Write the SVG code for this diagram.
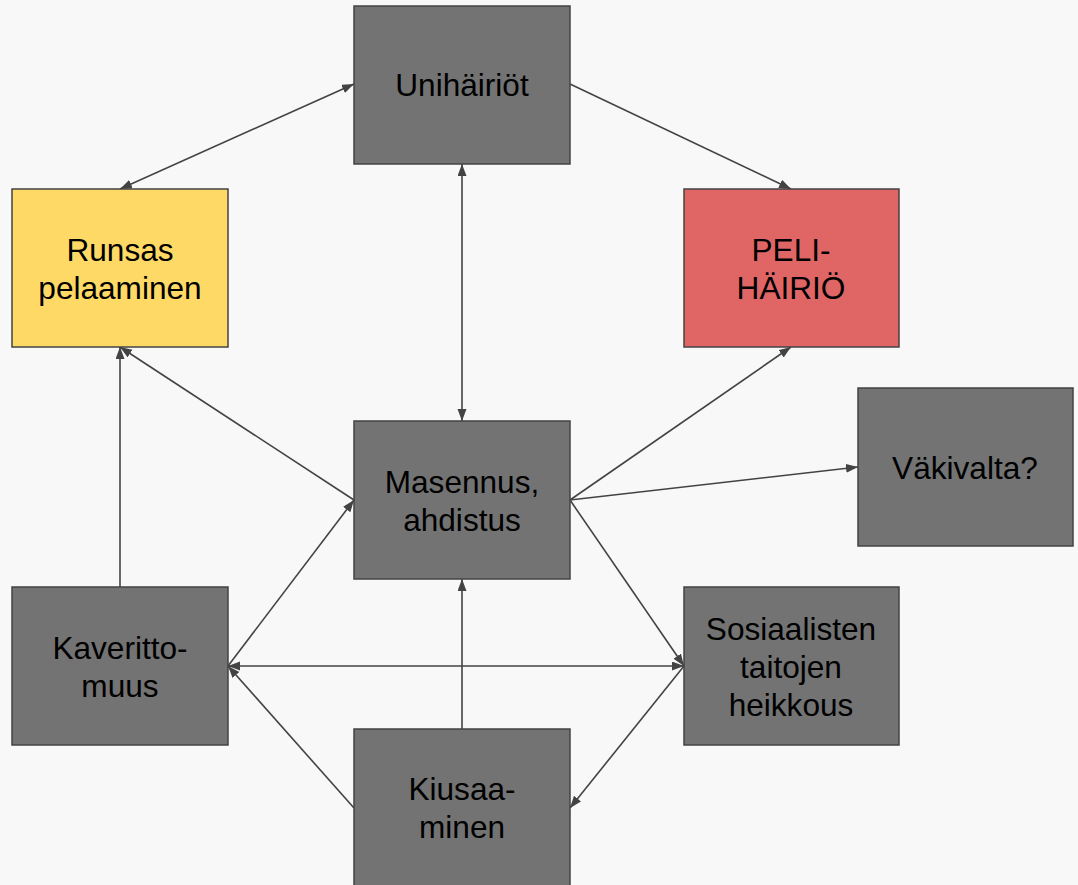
<svg xmlns="http://www.w3.org/2000/svg" width="1078" height="885" viewBox="0 0 1078 885">
  <style>
    .box { fill: #737373; stroke: #434343; stroke-width: 1.5; }
    .yellow { fill: #ffd966; }
    .red { fill: #e06666; }
    .label { font-family: "Liberation Sans", Arial, sans-serif; font-size: 31.6px; fill: #000; text-anchor: middle; }
    .edge { stroke: #434343; stroke-width: 1.6; fill: none; }
  </style>
  <defs>
    <marker id="arrow" markerUnits="userSpaceOnUse" markerWidth="13" markerHeight="10" refX="12" refY="4.5" orient="auto-start-reverse">
      <path d="M0,0 L12,4.5 L0,9 z" fill="#434343"/>
    </marker>
  </defs>
  <rect width="1078" height="885" fill="#f8f8f8"/>

  <g id="connectors">
    <line class="edge" x1="120" y1="189" x2="354" y2="84" marker-start="url(#arrow)" marker-end="url(#arrow)"/>
    <line class="edge" x1="570" y1="84" x2="791" y2="189" marker-end="url(#arrow)"/>
    <line class="edge" x1="462" y1="164" x2="462" y2="421" marker-start="url(#arrow)" marker-end="url(#arrow)"/>
    <line class="edge" x1="354" y1="500" x2="120" y2="347" marker-end="url(#arrow)"/>
    <line class="edge" x1="120" y1="587" x2="120" y2="347" marker-end="url(#arrow)"/>
    <line class="edge" x1="570" y1="500" x2="791" y2="347" marker-end="url(#arrow)"/>
    <line class="edge" x1="570" y1="500" x2="858" y2="467" marker-end="url(#arrow)"/>
    <line class="edge" x1="570" y1="500" x2="684" y2="666" marker-end="url(#arrow)"/>
    <line class="edge" x1="228" y1="666" x2="354" y2="500" marker-end="url(#arrow)"/>
    <line class="edge" x1="228" y1="666" x2="684" y2="666" marker-start="url(#arrow)" marker-end="url(#arrow)"/>
    <line class="edge" x1="354" y1="808" x2="228" y2="666" marker-end="url(#arrow)"/>
    <line class="edge" x1="462" y1="729" x2="462" y2="579" marker-end="url(#arrow)"/>
    <line class="edge" x1="684" y1="666" x2="570" y2="808" marker-end="url(#arrow)"/>
  </g>

  <g id="unihairiot">
    <rect class="box" x="354" y="6" width="216" height="158"/>
    <text class="label" x="462" y="96">Unihäiriöt</text>
  </g>

  <g id="runsas-pelaaminen">
    <rect class="box yellow" x="12" y="189" width="216" height="158"/>
    <text class="label" x="120" y="261">Runsas</text>
    <text class="label" x="120" y="299">pelaaminen</text>
  </g>

  <g id="pelihairio">
    <rect class="box red" x="684" y="189" width="215" height="158"/>
    <text class="label" x="791" y="261">PELI-</text>
    <text class="label" x="791" y="299">HÄIRIÖ</text>
  </g>

  <g id="vakivalta">
    <rect class="box" x="858" y="388" width="215" height="158"/>
    <text class="label" x="965" y="479">Väkivalta?</text>
  </g>

  <g id="masennus">
    <rect class="box" x="354" y="421" width="216" height="158"/>
    <text class="label" x="462" y="493">Masennus,</text>
    <text class="label" x="462" y="531">ahdistus</text>
  </g>

  <g id="kaverittomuus">
    <rect class="box" x="12" y="587" width="216" height="158"/>
    <text class="label" x="120" y="659">Kaveritto-</text>
    <text class="label" x="120" y="697">muus</text>
  </g>

  <g id="sosiaaliset-taidot">
    <rect class="box" x="684" y="587" width="215" height="158"/>
    <text class="label" x="791" y="640">Sosiaalisten</text>
    <text class="label" x="791" y="678">taitojen</text>
    <text class="label" x="791" y="716">heikkous</text>
  </g>

  <g id="kiusaaminen">
    <rect class="box" x="354" y="729" width="216" height="158"/>
    <text class="label" x="462" y="800">Kiusaa-</text>
    <text class="label" x="462" y="838">minen</text>
  </g>
</svg>
